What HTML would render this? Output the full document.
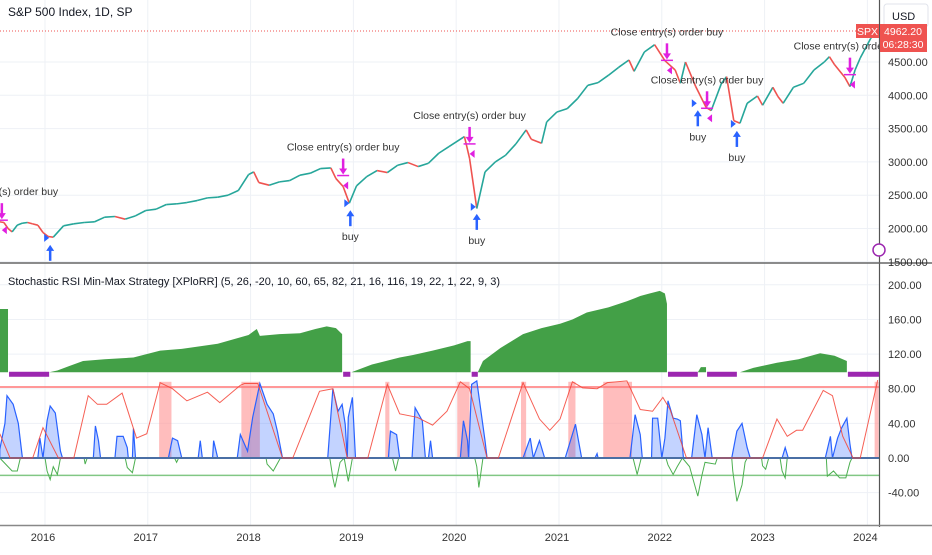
<!DOCTYPE html>
<html><head><meta charset="utf-8">
<style>
html,body{margin:0;padding:0;background:#fff;}
body{width:932px;height:550px;overflow:hidden;font-family:"Liberation Sans",sans-serif;}
svg text{font-family:"Liberation Sans",sans-serif;}
</style></head>
<body>
<svg id="chart" width="932" height="550" viewBox="0 0 932 550">
<defs><clipPath id="topClip"><rect x="0" y="0" width="880" height="262"/></clipPath></defs>
<g id="gridG"></g>
<g id="topG" clip-path="url(#topClip)"></g>
<g id="botG"></g>
<g id="axesG"></g>
</svg>
<script>
// ---- data ----
const priceDates=[2015.58,2015.62,2015.66,2015.70,2015.75,2015.80,2015.85,2015.90,2015.95,2016.0,2016.05,2016.1,2016.2,2016.3,2016.4,2016.5,2016.6,2016.7,2016.8,2016.9,2017.0,2017.1,2017.2,2017.3,2017.4,2017.5,2017.6,2017.7,2017.8,2017.9,2018.0,2018.05,2018.1,2018.2,2018.3,2018.4,2018.5,2018.6,2018.7,2018.8,2018.85,2018.92,2018.98,2019.05,2019.15,2019.25,2019.35,2019.45,2019.55,2019.65,2019.75,2019.85,2019.95,2020.1,2020.15,2020.22,2020.3,2020.4,2020.5,2020.6,2020.7,2020.75,2020.85,2020.9,2021.0,2021.1,2021.2,2021.3,2021.4,2021.5,2021.6,2021.7,2021.75,2021.85,2021.95,2022.05,2022.15,2022.2,2022.25,2022.35,2022.45,2022.5,2022.6,2022.65,2022.72,2022.78,2022.85,2022.95,2023.0,2023.1,2023.15,2023.2,2023.3,2023.4,2023.5,2023.6,2023.65,2023.7,2023.8,2023.85,2023.9,2023.95,2024.05,2024.1];
const priceValues=[2100,2090,2000,1950,2050,2080,2090,2070,2050,1940,1880,1870,2040,2070,2090,2100,2170,2180,2140,2190,2270,2290,2360,2370,2390,2420,2460,2470,2500,2570,2810,2850,2690,2650,2700,2720,2800,2830,2900,2910,2750,2630,2380,2640,2780,2870,2840,2950,2990,2930,2980,3130,3230,3380,3050,2300,2850,3000,3100,3270,3480,3340,3280,3600,3750,3800,3950,4150,4190,4300,4420,4530,4360,4650,4760,4520,4380,4180,4500,4130,3820,3770,4180,4280,3620,3580,3880,3990,3850,4120,3980,3880,4120,4180,4380,4500,4580,4460,4270,4130,4380,4560,4850,4960];

const equitySegments=[
 [[2015.58,172],[2015.66,172]],
 [[2016.06,99],[2016.14,101],[2016.25,106],[2016.39,112],[2016.6,114],[2016.88,116],[2017.14,124],[2017.35,126],[2017.53,129],[2017.7,132],[2017.85,137],[2018.0,142],[2018.08,149],[2018.11,141],[2018.3,143],[2018.5,144],[2018.65,149],[2018.76,152],[2018.85,150],[2018.91,143]],
 [[2019.00,99],[2019.2,108],[2019.47,116],[2019.6,119],[2019.79,124],[2020.0,130],[2020.13,135],[2020.16,135]],
 [[2020.23,99],[2020.28,112],[2020.45,127],[2020.67,143],[2020.85,150],[2021.03,155],[2021.15,160],[2021.29,168],[2021.5,174],[2021.68,181],[2021.81,187],[2021.9,190],[2022.00,193],[2022.05,190],[2022.07,178]],
 [[2022.37,99],[2022.40,105],[2022.45,105]],
 [[2022.78,99],[2022.91,104],[2023.14,110],[2023.35,114],[2023.56,121],[2023.7,118],[2023.78,114],[2023.82,112]]
];
const flatStarts=[2015.67,2018.92,2020.17,2022.08,2022.46,2023.83];
const flatEnds=[2016.06,2018.99,2020.23,2022.37,2022.75,2024.14];

const redLine=[[2015.58,28],[2015.68,0],[2015.90,0],[2016.0,35],[2016.15,0],[2016.30,0],[2016.44,72],[2016.53,62],[2016.62,62],[2016.77,75],[2016.91,23],[2017.01,28],[2017.14,87],[2017.26,80],[2017.40,66],[2017.60,76],[2017.72,64],[2017.92,84],[2017.96,86],[2018.09,86],[2018.33,0],[2018.43,0],[2018.69,77],[2018.82,80],[2018.96,0],[2019.16,0],[2019.35,85],[2019.47,51],[2019.64,47],[2019.79,38],[2019.93,54],[2020.06,88],[2020.15,80],[2020.32,0],[2020.43,0],[2020.67,87],[2020.83,45],[2020.93,32],[2021.03,45],[2021.15,88],[2021.25,81],[2021.39,80],[2021.49,87],[2021.68,89],[2021.81,56],[2021.93,54],[2022.03,70],[2022.10,56],[2022.26,0],[2023.00,0],[2023.14,45],[2023.24,25],[2023.33,32],[2023.39,32],[2023.59,78],[2023.68,72],[2023.78,25],[2023.88,0],[2023.95,0],[2024.12,90]];

const blueArea=[[2015.58,10],[2015.63,40],[2015.65,72],[2015.71,62],[2015.76,40],[2015.80,0],[2015.95,0],[2015.97,23],[2016.0,0],[2016.04,43],[2016.07,60],[2016.12,52],[2016.17,8],[2016.19,0],[2016.49,0],[2016.51,37],[2016.54,20],[2016.56,0],[2016.70,0],[2016.72,25],[2016.78,25],[2016.82,12],[2016.83,0],[2016.87,0],[2016.88,34],[2016.90,0],[2017.22,0],[2017.26,23],[2017.31,20],[2017.35,0],[2017.51,0],[2017.53,20],[2017.55,0],[2017.65,0],[2017.66,20],[2017.70,0],[2017.89,0],[2017.92,27],[2017.99,8],[2018.04,47],[2018.11,86],[2018.18,62],[2018.24,51],[2018.28,31],[2018.33,0],[2018.77,0],[2018.82,80],[2018.87,54],[2018.91,62],[2018.94,39],[2018.96,0],[2018.97,47],[2019.01,70],[2019.04,0],[2019.36,0],[2019.38,31],[2019.44,27],[2019.47,0],[2019.59,0],[2019.62,58],[2019.69,43],[2019.72,0],[2019.75,0],[2019.77,20],[2019.79,0],[2020.06,0],[2020.09,43],[2020.13,20],[2020.14,0],[2020.17,85],[2020.22,89],[2020.30,20],[2020.32,0],[2020.67,0],[2020.74,23],[2020.77,0],[2020.83,20],[2020.88,0],[2021.08,0],[2021.18,39],[2021.24,0],[2021.37,0],[2021.39,5],[2021.40,0],[2021.71,0],[2021.76,50],[2021.81,27],[2021.83,0],[2021.92,0],[2021.93,46],[2021.98,46],[2022.02,0],[2022.05,23],[2022.08,66],[2022.13,46],[2022.17,45],[2022.20,43],[2022.23,0],[2022.31,0],[2022.36,50],[2022.41,27],[2022.44,0],[2022.47,35],[2022.51,0],[2022.70,0],[2022.75,31],[2022.80,40],[2022.85,12],[2022.88,0],[2023.19,0],[2023.22,12],[2023.25,0],[2023.61,0],[2023.66,25],[2023.68,0],[2023.73,23],[2023.77,35],[2023.82,46],[2023.85,16],[2023.87,0]];

const greenLine=[[2015.58,0],[2015.70,-15],[2015.75,-15],[2015.78,0],[2016.02,0],[2016.04,-15],[2016.07,-25],[2016.10,-10],[2016.14,-19],[2016.17,0],[2016.40,0],[2016.41,-7],[2016.43,0],[2016.80,0],[2016.82,-11],[2016.87,-17],[2016.90,0],[2017.28,0],[2017.30,-5],[2017.32,0],[2018.17,0],[2018.18,-7],[2018.24,-15],[2018.31,0],[2018.79,0],[2018.82,-23],[2018.84,-34],[2018.89,-5],[2018.93,0],[2018.97,-27],[2019.01,0],[2019.40,0],[2019.43,-15],[2019.46,0],[2020.20,0],[2020.22,-10],[2020.24,-34],[2020.28,0],[2021.74,0],[2021.78,-19],[2021.82,0],[2022.06,0],[2022.08,-8],[2022.13,-19],[2022.17,-10],[2022.22,0],[2022.29,-10],[2022.32,-23],[2022.37,-44],[2022.41,-20],[2022.44,-5],[2022.54,-7],[2022.56,0],[2022.70,0],[2022.71,-15],[2022.75,-50],[2022.80,-31],[2022.83,-5],[2022.85,0],[2022.99,0],[2023.00,-9],[2023.03,-13],[2023.06,0],[2023.17,0],[2023.19,-15],[2023.22,-23],[2023.24,0],[2023.62,0],[2023.63,-21],[2023.69,-15],[2023.75,-23],[2023.81,-23],[2023.85,-5],[2023.87,0]];

const bandStarts=[2017.13,2017.93,2019.33,2020.03,2020.65,2021.11,2021.45,2024.09];
const bandEnds=[2017.25,2018.11,2019.37,2020.15,2020.70,2021.18,2021.73,2024.13];

const priceTicks=[4500,4000,3500,3000,2500,2000,1500];
const oscTicks=[200,160,120,80,40,0,-40];
const yearTicks=[2016,2017,2018,2019,2020,2021,2022,2023,2024];

const closeDates=[2015.60,2018.92,2020.15,2022.07,2022.46,2023.85];
const closePrices=[2080,2750,3225,4480,3760,4265];
const buyDates=[2016.07,2018.99,2020.22,2022.37,2022.75];
const buyPrices=[1830,2350,2295,3850,3540];

// ---- scales ----
const X0=2015.582, PXY=102.8;
const xs=t=>(t-X0)*PXY;
const yp=p=>62+(4500-p)*0.0666;
const yo=v=>458-v*0.866;

const NS='http://www.w3.org/2000/svg';
function mk(parent,tag,attrs){const e=document.createElementNS(NS,tag);for(const k in attrs)e.setAttribute(k,attrs[k]);parent.appendChild(e);return e;}
const gridG=document.getElementById('gridG'),topG=document.getElementById('topG'),botG=document.getElementById('botG'),axesG=document.getElementById('axesG');

yearTicks.forEach(y=>{const l=mk(gridG,'line',{x1:xs(y)+2,x2:xs(y)+2,y1:0,y2:525,stroke:'#eef1f6','stroke-width':1});

});
priceTicks.forEach(p=>{const l=mk(gridG,'line',{x1:0,x2:879,y1:yp(p),y2:yp(p),stroke:'#eef1f6'});

});
oscTicks.forEach(v=>{const l=mk(gridG,'line',{x1:0,x2:879,y1:yo(v),y2:yo(v),stroke:'#eef1f6'});

});

for(let i=1;i<priceDates.length;i++){
 const up=priceValues[i]>=priceValues[i-1];
 const s=mk(topG,'line',{x1:xs(priceDates[i-1]),y1:yp(priceValues[i-1]),x2:xs(priceDates[i]),y2:yp(priceValues[i]),stroke:up?'#26a69a':'#ef5350','stroke-width':1.6});
 
 
}
const dl=mk(topG,'line',{x1:0,x2:879,y1:31,y2:31,stroke:'#ef5350','stroke-width':1,'stroke-dasharray':'1,2'});



function txt(parent,x,y,s,attrs,name){const t=mk(parent,'text',Object.assign({x:x,y:y,'font-size':11,fill:'#131722'},attrs||{}));t.textContent=s;return t;}

closeDates.forEach((d,i)=>{
 const x=xs(d), y=yp(closePrices[i]);
 const g=mk(topG,'g',{});
 
 
 mk(g,'line',{x1:x,x2:x,y1:y-20,y2:y-8,stroke:'#e020e0','stroke-width':2.5});
 mk(g,'path',{d:`M${x-4},${y-10} L${x+4},${y-10} L${x},${y-4} Z`,fill:'#e020e0'});
 mk(g,'line',{x1:x-6,x2:x+6,y1:y-3,y2:y-3,stroke:'#e020e0','stroke-width':1.5});
 mk(g,'path',{d:`M${x+5},${y+3} L${x+5},${y+11} L${x},${y+7} Z`,fill:'#e020e0'});
 txt(topG,x,y-28,'Close entry(s) order buy',{'text-anchor':'middle','font-size':10.5,fill:'#333'},'close-order-label');
});
buyDates.forEach((d,i)=>{
 const x=xs(d), y=yp(buyPrices[i]);
 const g=mk(topG,'g',{});
 
 
 mk(g,'path',{d:`M${x-6},${y-6} L${x-6},${y+2} L${x-1},${y-2} Z`,fill:'#2962ff'});
 mk(g,'line',{x1:x,x2:x,y1:y+8,y2:y+21,stroke:'#2962ff','stroke-width':2.5});
 mk(g,'path',{d:`M${x-4},${y+11} L${x+4},${y+11} L${x},${y+5} Z`,fill:'#2962ff'});
 txt(topG,x,y+35,'buy',{'text-anchor':'middle','font-size':10.5,fill:'#333'},'buy-label');
});
txt(topG,8,16,'S&P 500 Index, 1D, SP',{'font-size':12},'chart-title');

const base=99;
bandStarts.forEach((s,i)=>{const r=mk(botG,'rect',{x:xs(s),y:yo(88),width:xs(bandEnds[i])-xs(s),height:yo(0)-yo(88),fill:'#f99',opacity:0.65});

});
equitySegments.forEach(seg=>{
 let d=`M${xs(seg[0][0])},${yo(base)}`;
 seg.forEach(p=>d+=` L${xs(p[0])},${yo(p[1])}`);
 d+=` L${xs(seg[seg.length-1][0])},${yo(base)} Z`;
 const a=mk(botG,'path',{d:d,fill:'#43a047'});
 
 
});
flatStarts.forEach((s,i)=>{const r=mk(botG,'rect',{x:xs(s),y:yo(base)-0.5,width:xs(flatEnds[i])-xs(s),height:5,fill:'#9c27b0'});

});
[[82,'#f77','upper-level-line'],[-20,'#81c784','lower-level-line']].forEach(h=>{const l=mk(botG,'line',{x1:0,x2:879,y1:yo(h[0]),y2:yo(h[0]),stroke:h[1],'stroke-width':1.5});

});
{let d=`M${xs(blueArea[0][0])},${yo(0)}`;blueArea.forEach(p=>d+=` L${xs(p[0])},${yo(p[1])}`);d+=` L${xs(blueArea[blueArea.length-1][0])},${yo(0)} Z`;
const a=mk(botG,'path',{d:d,fill:'rgba(41,98,255,0.28)',stroke:'#2962ff','stroke-width':1.2});

}
{const pl=mk(botG,'polyline',{points:greenLine.map(p=>xs(p[0])+','+yo(p[1])).join(' '),fill:'none',stroke:'#4caf50','stroke-width':1});

}
{const l=mk(botG,'line',{x1:0,x2:879,y1:yo(0),y2:yo(0),stroke:'#4a6fa5','stroke-width':2});

}
{const pl=mk(botG,'polyline',{points:redLine.map(p=>xs(p[0])+','+yo(p[1])).join(' '),fill:'none',stroke:'#f44336','stroke-width':1,opacity:0.85});

}
txt(botG,8,285,'Stochastic RSI Min-Max Strategy [XPloRR] (5, 26, -20, 10, 60, 65, 82, 21, 16, 116, 19, 22, 1, 22, 9, 3)',{'font-size':11},'indicator-legend');

const ar=(x,y,w,h,f,n)=>{const r=mk(axesG,'rect',{x:x,y:y,width:w,height:h,fill:f});return r;};
ar(880,0,52,550,'#fff','price-axis-bg');
ar(0,526,932,24,'#fff','time-axis-bg');
{const l=mk(axesG,'line',{x1:879.5,x2:879.5,y1:0,y2:527,stroke:'#555','stroke-width':1.2});}
{const l=mk(axesG,'line',{x1:0,x2:932,y1:263,y2:263,stroke:'#666','stroke-width':1.5});}
{const l=mk(axesG,'line',{x1:0,x2:932,y1:525.5,y2:525.5,stroke:'#888','stroke-width':1.5});}
priceTicks.forEach(p=>txt(axesG,888,yp(p)+4,p.toFixed(2),{'font-size':11,fill:'#333'},'price-tick-label'));
oscTicks.forEach(v=>txt(axesG,888,yo(v)+4,v.toFixed(2),{'font-size':11,fill:'#333'},'osc-tick-label'));
yearTicks.forEach(y=>txt(axesG,xs(y),541,String(y),{'font-size':11,fill:'#333','text-anchor':'middle'},'year-tick-label'));
{const r=mk(axesG,'rect',{x:884,y:4,width:44,height:23,rx:3,fill:'#fff',stroke:'#e0e3eb'});}
txt(axesG,892,20,'USD',{'font-size':11},'currency-label');
ar(856,24,23,14,'#ef5350','spx-badge');
txt(axesG,867.5,35,'SPX',{'font-size':10.5,fill:'#fff','text-anchor':'middle'},'spx-badge-text');
ar(880,24,47,28,'#ef5350','last-price-badge');
txt(axesG,903,35,'4962.20',{'font-size':10.5,fill:'#fff','text-anchor':'middle'},'last-price-text');
txt(axesG,903,48,'06:28:30',{'font-size':10.5,fill:'#fff','text-anchor':'middle'},'countdown-text');
{const c=mk(axesG,'circle',{cx:879,cy:250,r:6,fill:'#fff',stroke:'#9c27b0','stroke-width':1.5});}
</script>
</body></html>
